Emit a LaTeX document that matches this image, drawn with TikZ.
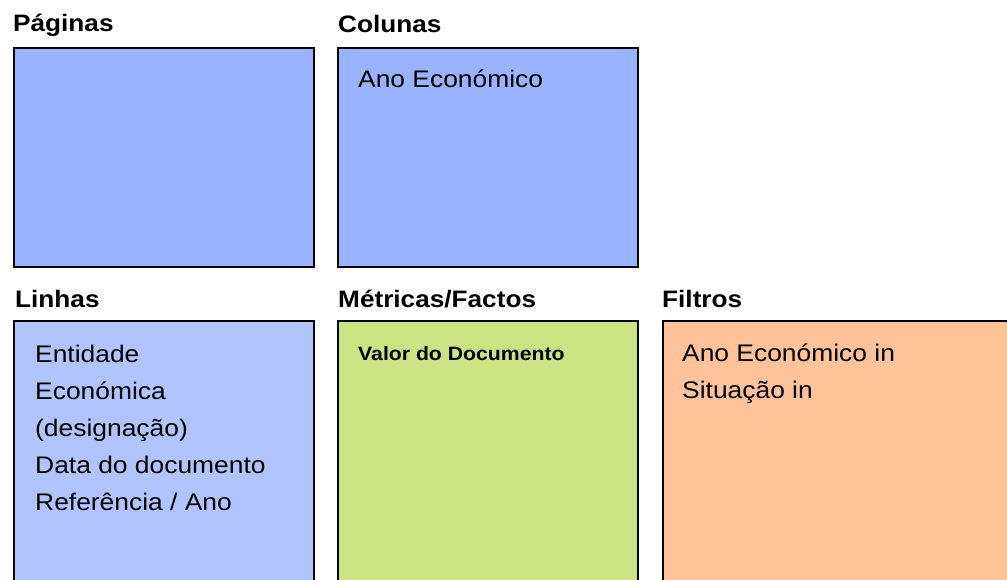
\documentclass[tikz,border=0pt]{standalone}
\usepackage{fontspec}
\setmainfont{Liberation Sans}[FakeStretch=1.1]
\definecolor{pagblue}{RGB}{153,179,255}
\definecolor{linblue}{RGB}{176,196,255}
\definecolor{metgreen}{RGB}{204,227,132}
\definecolor{filorange}{RGB}{255,194,153}
\begin{document}
\begin{tikzpicture}[x=1pt,y=-1pt,
  box/.style={draw=black, line width=1.6pt, rectangle, inner sep=0pt, anchor=north west},
  topbox/.style={box, minimum width=300pt, minimum height=219pt},
  lowbox/.style={box, minimum width=300pt, minimum height=290pt},
  hdr/.style={anchor=base west, inner sep=0pt, font=\bfseries\fontsize{23.8}{28}\selectfont},
  txt/.style={anchor=base west, inner sep=0pt, font=\fontsize{24}{28}\selectfont},
  smallbold/.style={anchor=base west, inner sep=0pt, font=\bfseries\fontsize{19.3}{22}\selectfont}]
\useasboundingbox (0,0) rectangle (1007,580);
\clip (0,0) rectangle (1007,580);
% top row
\node[hdr] (hpag) at (13,32) {Páginas};
\node[topbox, fill=pagblue] (pag) at (13,47) {};
\node[hdr] (hcol) at (338,33) {Colunas};
\node[topbox, fill=pagblue] (col) at (337,47) {};
\node[txt] (col1) at (358,88) {Ano Económico};
% bottom row
\node[hdr] (hlin) at (15,307) {Linhas};
\node[lowbox, fill=linblue] (lin) at (13,320) {};
\node[txt] (lin1) at (35,362) {Entidade};
\node[txt] (lin2) at (35,399) {Económica};
\node[txt] (lin3) at (35,436) {(designação)};
\node[txt] (lin4) at (35,473) {Data do documento};
\node[txt] (lin5) at (35,510) {Referência / Ano};
\node[hdr] (hmet) at (338,307) {Métricas/Factos};
\node[lowbox, fill=metgreen] (met) at (337,320) {};
\node[smallbold] (met1) at (358,360) {Valor do Documento};
\node[hdr] (hfil) at (662,307) {Filtros};
\node[lowbox, minimum width=370pt, fill=filorange] (fil) at (662,320) {};
\node[txt] (fil1) at (682,361) {Ano Económico in};
\node[txt] (fil2) at (682,398) {Situação in};
\end{tikzpicture}
\end{document}
